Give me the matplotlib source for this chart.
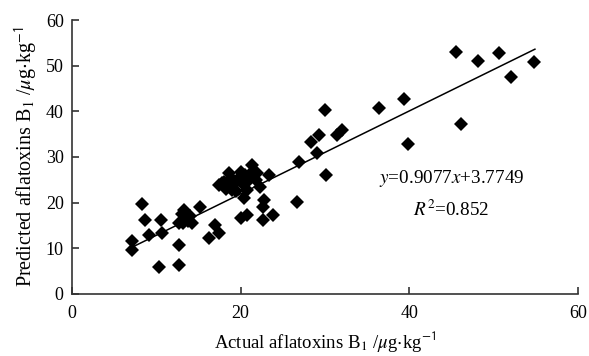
import matplotlib
matplotlib.use("Agg")
import matplotlib.pyplot as plt
import numpy as np

plt.rcParams['font.family'] = ['Liberation Serif', 'DejaVu Serif']
plt.rcParams['mathtext.fontset'] = 'stix'

actual = [7.1, 7.1, 8.3, 8.7, 9.1, 10.5, 10.7, 10.3, 12.7, 12.7,
          12.7, 13.3, 13.0, 13.5, 14.0, 13.2, 14.2, 13.8, 15.2, 16.2,
          17.0, 17.4, 17.4, 17.8, 18.0, 18.3, 18.6, 18.8, 19.0, 19.2,
          19.5, 19.8, 20.0, 20.2, 20.5, 20.4, 20.8, 21.0, 21.4, 21.5,
          21.8, 22.0, 22.3, 23.4, 22.8, 22.6, 23.8, 22.6, 20.0, 20.8,
          26.7, 26.9, 28.3, 29.3, 29.1, 30.0, 30.1, 31.4, 32.0, 36.4,
          39.4, 39.9, 45.5, 46.1, 48.2, 50.6, 52.1, 54.8]
predicted = [11.5, 9.6, 19.8, 16.2, 12.9, 16.2, 13.3, 6.0, 10.7, 6.4,
             15.5, 18.4, 17.5, 16.5, 17.0, 15.5, 15.5, 16.0, 19.1, 12.2,
             15.1, 13.3, 23.9, 24.2, 24.5, 23.0, 26.4, 25.5, 22.8, 24.0,
             22.5, 25.5, 26.8, 24.2, 26.0, 21.0, 22.8, 25.0, 28.2, 27.0,
             25.0, 26.5, 23.5, 26.1, 20.6, 19.1, 17.3, 16.2, 16.6, 17.3,
             20.2, 29.0, 33.3, 34.8, 30.8, 40.3, 26.1, 34.8, 35.9, 40.8,
             42.7, 32.8, 53.1, 37.2, 51.1, 52.7, 47.6, 50.7]

slope = 0.9077
intercept = 3.7749
fit_range = [7.0, 54.9]
eq_text = r"$y$=0.9077$x$+3.7749"
r2_text = r"$R^{2}$=0.852"

fig = plt.figure(figsize=(5.89, 3.56), dpi=100)
ax = fig.add_axes([0.1222, 0.1742, 0.8590, 0.7696])

ax.plot(actual, predicted, ls='none', marker='D', markersize=7.4,
        color='black', markeredgewidth=0)
xf = np.array(fit_range)
ax.plot(xf, slope * xf + intercept, color='black', lw=1.1)

ax.set_xlim(0, 60)
ax.set_ylim(0, 60)
ax.set_xticks([0, 20, 40, 60])
ax.set_yticks([0, 10, 20, 30, 40, 50, 60])
ax.spines['top'].set_visible(False)
ax.spines['right'].set_visible(False)
for s in ['left', 'bottom']:
    ax.spines[s].set_linewidth(1.2)
    ax.spines[s].set_color('#333333')
ax.tick_params(direction='in', length=5, width=1.2, color='#333333',
               labelsize=13)
ax.tick_params(axis='x', pad=8)
ax.tick_params(axis='y', pad=6)

ax.set_xlabel(r"Actual aflatoxins B$_1$ /$\mu$g$\cdot$kg$^{\mathsf{-1}}$", fontsize=13.5, labelpad=5)
ax.set_ylabel(r"Predicted aflatoxins B$_1$ /$\mu$g$\cdot$kg$^{\mathsf{-1}}$", fontsize=14.5, labelpad=4)

ax.text(45, 25.4, eq_text, ha='center', va='center', fontsize=13.8)
ax.text(45, 18.4, r2_text, ha='center', va='center', fontsize=13.8)

fig.savefig("out.png", dpi=100)
